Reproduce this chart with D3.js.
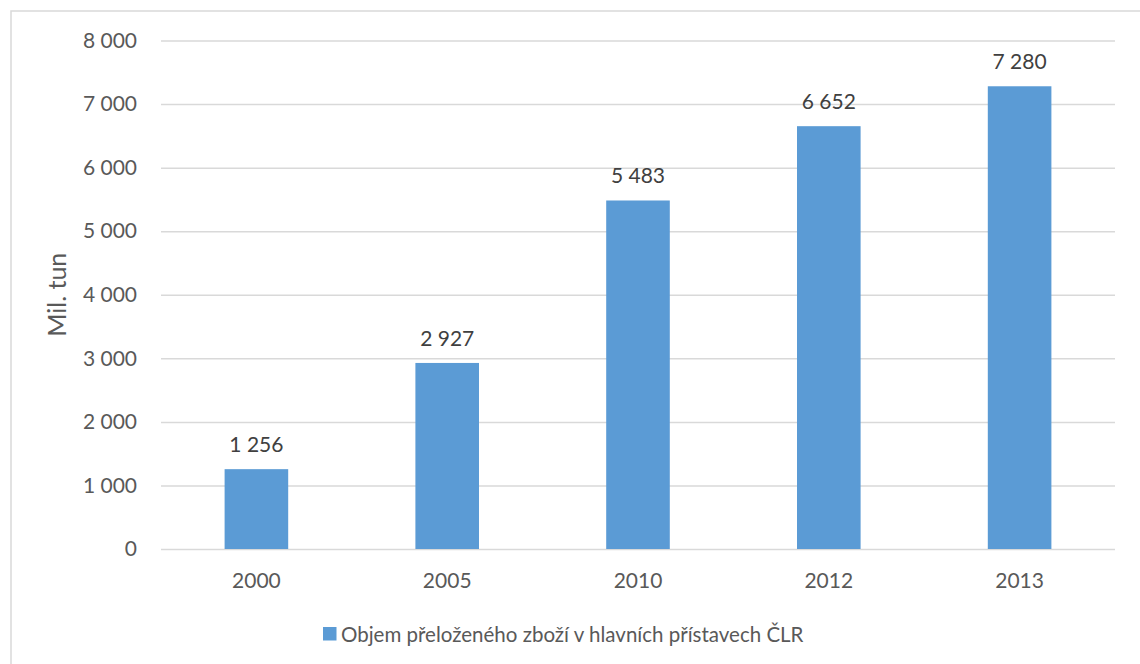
<!DOCTYPE html>
<html>
<head>
<meta charset="utf-8">
<script src="https://cdn.jsdelivr.net/npm/d3@7"></script>
<style>
  html, body { margin: 0; padding: 0; background: #fff; }
  svg { display: block; font-family: Lato, "Open Sans", sans-serif; }
</style>
</head>
<body>
<svg id="chart" width="1140" height="664"></svg>
<script>
// Objem přeloženého zboží v hlavních přístavech ČLR (mil. tun)
const years = ["2000", "2005", "2010", "2012", "2013"];
const volumes = [1256, 2927, 5483, 6652, 7280];
const yTicks = [0, 1000, 2000, 3000, 4000, 5000, 6000, 7000, 8000];
const seriesName = "Objem přeloženého zboží v hlavních přístavech ČLR";
const yTitle = "Mil. tun";

const svg = d3.select("#chart");
const barColor = "#5b9bd5";
const gridColor = "#d9d9d9";
const textColor = "#595959";

const plot = { left: 161, right: 1115, top: 40.5, bottom: 549 };

// thousands separated by a space, e.g. "7 280"
const fmt = v => d3.format(",")(v).replace(/,/g, "\u00a0");

const x = d3.scaleBand()
  .domain(years)
  .range([plot.left, plot.right])
  .paddingInner(2 / 3)
  .paddingOuter(1 / 3);

const y = d3.scaleLinear()
  .domain([0, 8000])
  .range([plot.bottom, plot.top]);

// outer frame (open on the right and bottom edges)
svg.append("path")
  .attr("d", "M11,664 L11,11 L1140,11")
  .attr("fill", "none")
  .attr("stroke", gridColor)
  .attr("stroke-width", 1.5);

// horizontal gridlines + y tick labels
const yAxis = d3.axisLeft(y)
  .tickValues(yTicks)
  .tickSize(-(plot.right - plot.left))
  .tickPadding(24)
  .tickFormat(fmt);

const gy = svg.append("g")
  .attr("transform", `translate(${plot.left},0)`)
  .call(yAxis);
gy.select(".domain").remove();
gy.selectAll(".tick line")
  .attr("stroke", gridColor)
  .attr("stroke-width", 1.5);
gy.selectAll(".tick text")
  .attr("fill", textColor)
  .attr("font-size", 21)
  .attr("font-family", "Lato, sans-serif");

// x category labels
const xAxis = d3.axisBottom(x).tickSize(0).tickPadding(24);
const gx = svg.append("g")
  .attr("transform", `translate(0,${plot.bottom})`)
  .call(xAxis);
gx.select(".domain").remove();
gx.selectAll(".tick text")
  .attr("fill", textColor)
  .attr("font-size", 21)
  .attr("font-family", "Lato, sans-serif");

const data = years.map((yr, i) => ({ year: yr, value: volumes[i] }));

// bars
svg.append("g").selectAll("rect")
  .data(data)
  .join("rect")
  .attr("x", d => x(d.year))
  .attr("y", d => y(d.value))
  .attr("width", x.bandwidth())
  .attr("height", d => y(0) - y(d.value))
  .attr("fill", barColor);

// value labels above the bars
svg.append("g").selectAll("text")
  .data(data)
  .join("text")
  .attr("x", d => x(d.year) + x.bandwidth() / 2)
  .attr("y", d => y(d.value) - 17)
  .attr("text-anchor", "middle")
  .attr("fill", "#404040")
  .attr("font-size", 21)
  .text(d => fmt(d.value));

// y axis title
svg.append("text")
  .attr("transform", `translate(66,${(plot.top + plot.bottom) / 2}) rotate(-90)`)
  .attr("text-anchor", "middle")
  .attr("fill", textColor)
  .attr("font-size", 25)
  .text(yTitle);

// legend
const legend = svg.append("g").attr("transform", "translate(323,627)");
legend.append("rect")
  .attr("width", 13.5)
  .attr("height", 13.5)
  .attr("fill", barColor);
legend.append("text")
  .attr("x", 18)
  .attr("y", 14.5)
  .attr("fill", textColor)
  .attr("font-size", 20.5)
  .text(seriesName);
</script>
</body>
</html>
